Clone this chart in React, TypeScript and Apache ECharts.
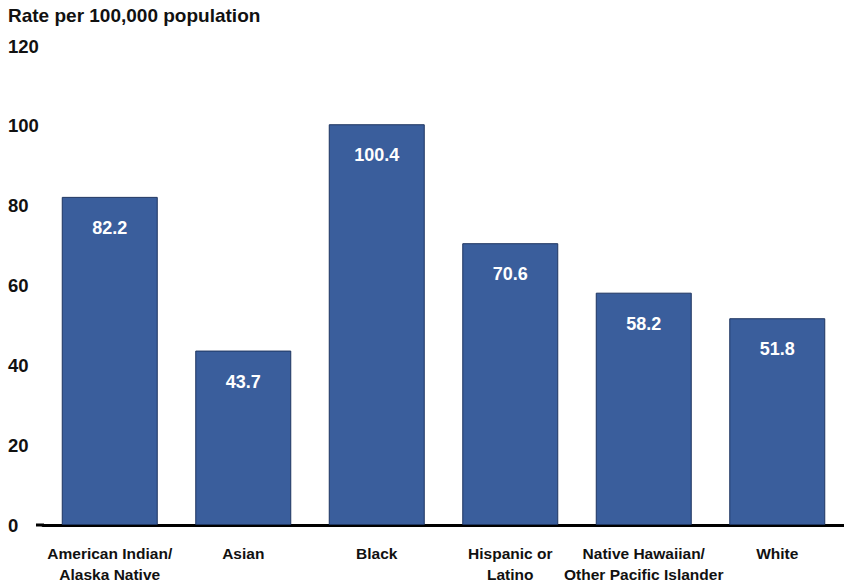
import React, { useEffect, useRef } from "react";
import * as echarts from "echarts";

const categories = [
  "American Indian/\nAlaska Native",
  "Asian",
  "Black",
  "Hispanic or\nLatino",
  "Native Hawaiian/\nOther Pacific Islander",
  "White",
];
const values = [82.2, 43.7, 100.4, 70.6, 58.2, 51.8];
const yTitle = "Rate per 100,000 population";

export default function App() {
  const ref = useRef<HTMLDivElement>(null);
  useEffect(() => {
    if (!ref.current) return;
    const chart = echarts.init(ref.current, null, { renderer: "svg" });
    chart.setOption({
      animation: false,
      backgroundColor: "#ffffff",
      textStyle: { fontFamily: "Liberation Sans, Arial, sans-serif" },
      grid: { left: 43, right: 0, top: 46, bottom: 63 },
      graphic: [
        {
          type: "text",
          left: 8,
          top: 6,
          style: {
            text: yTitle,
            font: "bold 19px 'Liberation Sans', Arial, sans-serif",
            fill: "#111",
          },
        },
        {
          type: "line",
          shape: { x1: 36, y1: 525, x2: 44, y2: 525 },
          style: { stroke: "#000", lineWidth: 3 },
        },
      ],
      xAxis: {
        type: "category",
        data: categories,
        axisLine: { show: true, lineStyle: { color: "#000", width: 3 } },
        axisTick: { show: false },
        axisLabel: {
          interval: 0,
          margin: 18,
          color: "#111",
          fontWeight: "bold",
          fontSize: 15.5,
          lineHeight: 21,
        },
      },
      yAxis: {
        type: "value",
        min: 0,
        max: 120,
        interval: 20,
        splitLine: { show: false },
        axisLine: { show: false },
        axisTick: { show: false },
        axisLabel: {
          align: "left",
          margin: 35,
          color: "#111",
          fontWeight: "bold",
          fontSize: 18.5,
        },
      },
      series: [
        {
          type: "bar",
          data: values,
          barWidth: 96,
          itemStyle: { color: "#3a5e9c", borderColor: "#1e3560", borderWidth: 1 },
          label: {
            show: true,
            position: "insideTop",
            distance: 22,
            color: "#ffffff",
            fontWeight: "bold",
            fontSize: 18,
            formatter: (p: any) => p.value.toFixed(1),
          },
        },
      ],
    });
    return () => chart.dispose();
  }, []);
  return (
    <div
      ref={ref}
      style={{ position: "fixed", left: 0, top: 0, width: 844, height: 588 }}
    />
  );
}
